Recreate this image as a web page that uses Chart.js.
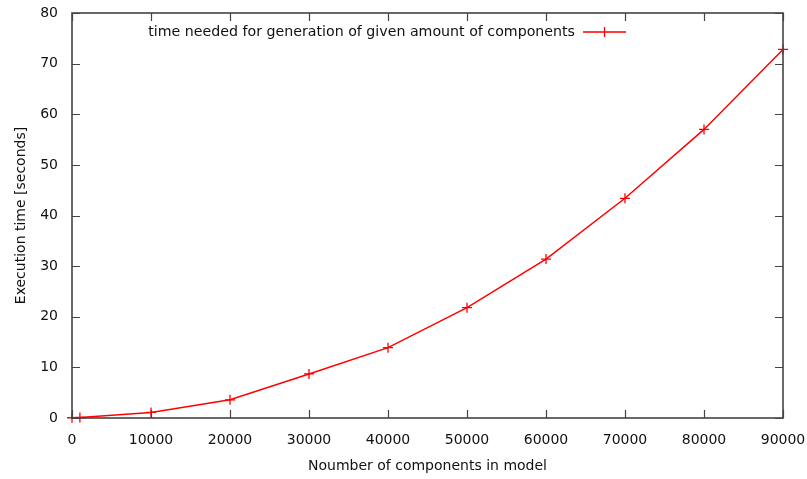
<!DOCTYPE html>
<html>
<head>
<meta charset="utf-8">
<script src="https://cdn.jsdelivr.net/npm/chart.js@4"></script>
<style>
  html, body { margin: 0; padding: 0; background: #fff; }
  #wrap { width: 807px; height: 479px; }
</style>
</head>
<body>
<div id="wrap"><canvas id="chart" width="807" height="479"></canvas></div>
<script>
// values
var components = [0, 1000, 10000, 20000, 30000, 40000, 50000, 60000, 70000, 80000, 90000];
var seconds = [0.05, 0.1, 1.1, 3.6, 8.7, 13.9, 21.8, 31.4, 43.4, 57.0, 72.8];
var seriesLabel = "time needed for generation of given amount of components";
var xTitle = "Noumber of components in model";
var yTitle = "Execution time [seconds]";

var FONT = "DejaVu Sans";
var AXIS = "#444";
var TEXT = "#111";

// gnuplot-like frame: box around plot area with inward ticks on all sides
var framePlugin = {
    id: "frame",
    afterDatasetsDraw(chart) {
        var ctx = chart.ctx, a = chart.chartArea;
        var xs = chart.scales.x, ys = chart.scales.y;
        ctx.save();
        ctx.strokeStyle = AXIS;
        ctx.lineWidth = 1.6;
        ctx.strokeRect(a.left, a.top, a.right - a.left, a.bottom - a.top);
        ctx.lineWidth = 1.2;
        ctx.beginPath();
        xs.ticks.forEach(function (t, i) {
            var px = Math.round(xs.getPixelForTick(i)) + 0.5;
            ctx.moveTo(px, a.bottom); ctx.lineTo(px, a.bottom - 8);
            ctx.moveTo(px, a.top); ctx.lineTo(px, a.top + 8);
        });
        ys.ticks.forEach(function (t, i) {
            var py = Math.round(ys.getPixelForTick(i)) + 0.5;
            ctx.moveTo(a.left, py); ctx.lineTo(a.left + 8, py);
            ctx.moveTo(a.right, py); ctx.lineTo(a.right - 8, py);
        });
        ctx.stroke();

        // key, top inside the frame
        var ty = a.top + 19;
        var sx0 = 583, sx1 = 626;
        ctx.font = "14.2px '" + FONT + "'";
        ctx.fillStyle = TEXT;
        ctx.textAlign = "right";
        ctx.textBaseline = "middle";
        ctx.fillText(seriesLabel, sx0 - 8, ty);
        ctx.strokeStyle = "#ff0000";
        ctx.lineWidth = 1.3;
        ctx.beginPath();
        ctx.moveTo(sx0, ty); ctx.lineTo(sx1, ty);
        var mx = (sx0 + sx1) / 2;
        ctx.moveTo(mx, ty - 5); ctx.lineTo(mx, ty + 5);
        ctx.stroke();
        ctx.restore();
    }
};

var formatted = {
    datasets: [{
        label: seriesLabel,
        data: components.map(function (c, i) { return {x: c, y: seconds[i]}; }),
        showLine: true,
        borderColor: "#ff0000",
        backgroundColor: "#ff0000",
        borderWidth: 1.5,
        pointStyle: "cross",
        pointRadius: 5,
        pointBorderWidth: 1.3,
        tension: 0,
        clip: false
    }]
};

var config = {
    type: "scatter",
    data: formatted,
    options: {
        responsive: false,
        animation: false,
        layout: { padding: { top: 13, right: 24, left: 0, bottom: 0 } },
        plugins: { legend: { display: false }, tooltip: { enabled: false } },
        scales: {
            x: {
                type: "linear", min: 0, max: 90000,
                grid: { display: false }, border: { display: false },
                ticks: { stepSize: 10000, padding: 6, color: TEXT, font: { family: FONT, size: 14 }, maxRotation: 0,
                         callback: function (v) { return String(v); } },
                title: { display: true, text: xTitle, color: TEXT, font: { family: FONT, size: 14 }, padding: { top: 10 } },
                afterFit: function (s) { s.height = 61; s.paddingLeft = 0; s.paddingRight = 0; }
            },
            y: {
                min: 0, max: 80,
                grid: { display: false }, border: { display: false },
                ticks: { stepSize: 10, padding: 6, color: TEXT, font: { family: FONT, size: 14 } },
                title: { display: true, text: yTitle, color: TEXT, font: { family: FONT, size: 14 }, padding: { top: 13, bottom: 0 } },
                afterFit: function (s) { s.width = 72; s.paddingTop = 0; s.paddingBottom = 0; }
            }
        }
    },
    plugins: [framePlugin]
};

new Chart(document.getElementById("chart"), config);
</script>
</body>
</html>
